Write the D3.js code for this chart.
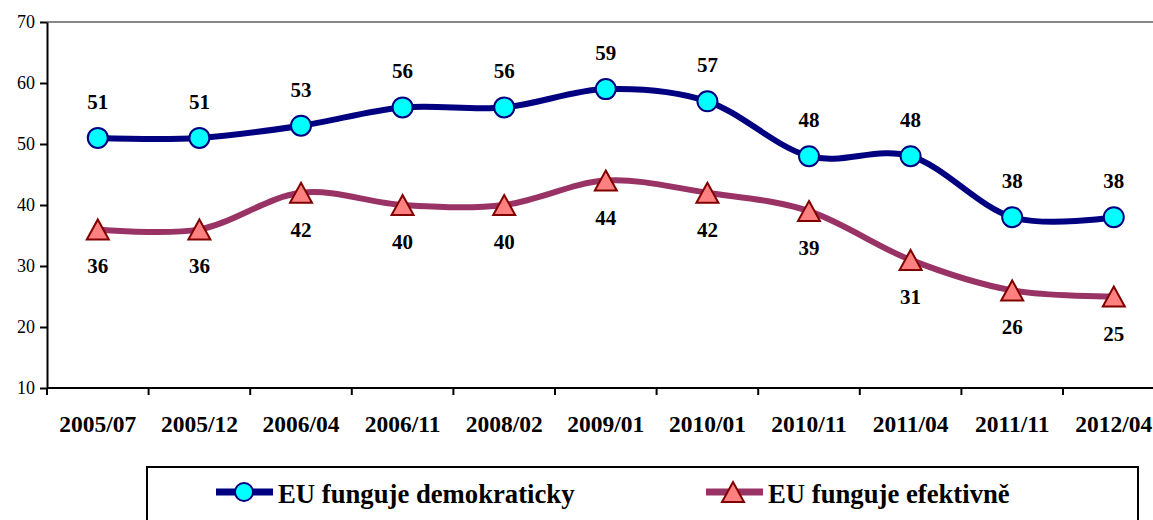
<!DOCTYPE html>
<html lang="cs">
<head>
<meta charset="UTF-8">
<title>EU funguje</title>
<script src="https://d3js.org/d3.v7.min.js"></script>
<style>
  body { margin: 0; background: #fff; }
  svg { font-family: "Liberation Serif", "Times New Roman", serif; display: block; }
</style>
</head>
<body>
<div id="chart"></div>
<script>
// chart data
var periods = ['2005/07', '2005/12', '2006/04', '2006/11', '2008/02', '2009/01', '2010/01', '2010/11', '2011/04', '2011/11', '2012/04'];
var demokraticky = [51, 51, 53, 56, 56, 59, 57, 48, 48, 38, 38];
var efektivne = [36, 36, 42, 40, 40, 44, 42, 39, 31, 26, 25];
var yTicks = [10, 20, 30, 40, 50, 60, 70];
var seriesNames = ['EU funguje demokraticky', 'EU funguje efektivně'];

var W = 1153, H = 520;
var plotLeft = 47, plotTop = 22, plotBottom = 388;

var svg = d3.select('#chart').append('svg')
    .attr('width', W).attr('height', H)
    .attr('font-family', '"Liberation Serif", serif');

var x = d3.scaleBand().domain(periods).range([plotLeft, plotLeft + 11 * 101.6]);
var y = d3.scaleLinear().domain([10, 70]).range([plotBottom, plotTop]);
var cx = function(d, i) { return x(periods[i]) + x.bandwidth() / 2; };

// top grey line at 70
svg.append('line')
    .attr('x1', plotLeft).attr('x2', W)
    .attr('y1', y(70)).attr('y2', y(70))
    .attr('stroke', '#888').attr('stroke-width', 2);

// y axis
var yAxis = svg.append('g')
    .attr('transform', 'translate(' + plotLeft + ',0)')
    .call(d3.axisLeft(y).tickValues(yTicks).tickSize(7).tickPadding(5).tickSizeOuter(0));
yAxis.attr('font-family', '"Liberation Serif", serif');
yAxis.select('.domain').attr('stroke', '#000').attr('stroke-width', 2);
yAxis.selectAll('.tick line').attr('stroke', '#000').attr('stroke-width', 2);
yAxis.selectAll('text').attr('font-size', 18).attr('fill', '#000');

// x axis
svg.append('line')
    .attr('x1', plotLeft).attr('x2', W)
    .attr('y1', plotBottom).attr('y2', plotBottom)
    .attr('stroke', '#000').attr('stroke-width', 2);
svg.selectAll('.xtick')
    .data(periods.slice(1))
    .enter().append('line')
    .attr('x1', d => x(d)).attr('x2', d => x(d))
    .attr('y1', plotBottom).attr('y2', plotBottom + 7)
    .attr('stroke', '#000').attr('stroke-width', 2);
svg.append('line')
    .attr('x1', plotLeft).attr('x2', plotLeft)
    .attr('y1', plotBottom).attr('y2', plotBottom + 7)
    .attr('stroke', '#000').attr('stroke-width', 2);
svg.selectAll('.xlabel')
    .data(periods)
    .enter().append('text')
    .attr('x', (d, i) => cx(d, i))
    .attr('y', 432)
    .attr('text-anchor', 'middle')
    .attr('font-size', 23.5).attr('font-weight', 'bold')
    .text(d => d);

var line = d3.line()
    .x((d, i) => cx(d, i))
    .y(d => y(d))
    .curve(d3.curveCatmullRom.alpha(0));

// lines
svg.append('path').datum(demokraticky)
    .attr('fill', 'none').attr('stroke', '#000080').attr('stroke-width', 6)
    .attr('d', line);
svg.append('path').datum(efektivne)
    .attr('fill', 'none').attr('stroke', '#993366').attr('stroke-width', 6)
    .attr('d', line);

// markers
svg.selectAll('.circ')
    .data(demokraticky)
    .enter().append('circle')
    .attr('cx', (d, i) => cx(d, i)).attr('cy', d => y(d))
    .attr('r', 10)
    .attr('fill', '#00ffff').attr('stroke', '#000080').attr('stroke-width', 2);

var tri = 'M0,-10L11,10L-11,10Z';
svg.selectAll('.tri')
    .data(efektivne)
    .enter().append('path')
    .attr('d', tri)
    .attr('transform', (d, i) => 'translate(' + cx(d, i) + ',' + y(d) + ')')
    .attr('fill', '#ff8080').attr('stroke', '#800000').attr('stroke-width', 2)
    .attr('stroke-linejoin', 'miter');

// data labels
svg.selectAll('.lblA')
    .data(demokraticky)
    .enter().append('text')
    .attr('x', (d, i) => cx(d, i)).attr('y', d => y(d) - 29)
    .attr('text-anchor', 'middle')
    .attr('font-size', 21).attr('font-weight', 'bold')
    .text(d => d);
svg.selectAll('.lblB')
    .data(efektivne)
    .enter().append('text')
    .attr('x', (d, i) => cx(d, i)).attr('y', d => y(d) + 44)
    .attr('text-anchor', 'middle')
    .attr('font-size', 21).attr('font-weight', 'bold')
    .text(d => d);

// legend
var lg = svg.append('g');
lg.append('rect')
    .attr('x', 147).attr('y', 467).attr('width', 991).attr('height', 70)
    .attr('fill', '#fff').attr('stroke', '#000').attr('stroke-width', 2);

var items = [
  {x: 216, name: seriesNames[0], stroke: '#000080'},
  {x: 706, name: seriesNames[1], stroke: '#993366'}
];
items.forEach(function(it, k) {
  var ly = 492;
  lg.append('line')
    .attr('x1', it.x).attr('x2', it.x + 57)
    .attr('y1', ly).attr('y2', ly)
    .attr('stroke', it.stroke).attr('stroke-width', 7);
  if (k === 0) {
    lg.append('circle').attr('cx', it.x + 28).attr('cy', ly).attr('r', 9)
      .attr('fill', '#00ffff').attr('stroke', '#000080').attr('stroke-width', 2);
  } else {
    lg.append('path').attr('d', tri)
      .attr('transform', 'translate(' + (it.x + 27) + ',' + ly + ')')
      .attr('fill', '#ff8080').attr('stroke', '#800000').attr('stroke-width', 2);
  }
  lg.append('text')
    .attr('x', it.x + 62).attr('y', 503)
    .attr('font-size', 26.7).attr('font-weight', 'bold')
    .text(it.name);
});
</script>
</body>
</html>
